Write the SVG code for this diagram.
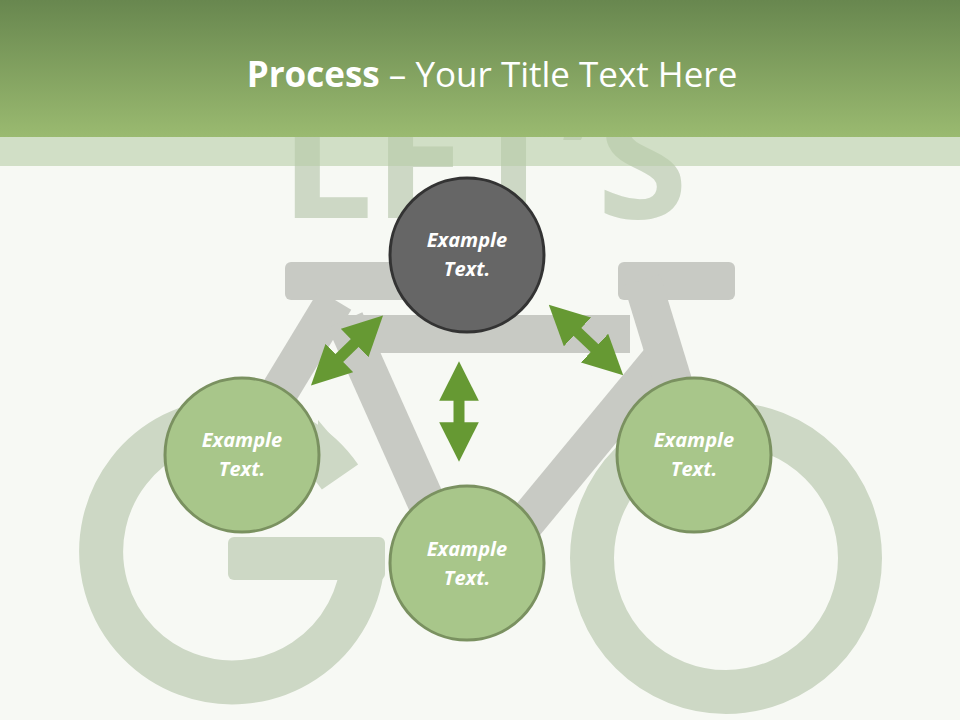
<svg xmlns="http://www.w3.org/2000/svg" width="960" height="720" viewBox="0 0 960 720">
<defs>
<linearGradient id="hdr" x1="0" y1="0" x2="0" y2="1"><stop offset="0" stop-color="#68874f"/><stop offset="1" stop-color="#9aba70"/></linearGradient>
<marker id="ah" viewBox="0 0 10 10" refX="4" refY="5" markerWidth="3.6" markerHeight="3.6" orient="auto-start-reverse" markerUnits="strokeWidth"><path d="M0,0 L10,5 L0,10 Z" fill="#669933"/></marker>
<style>
.frame{fill:none;stroke:#c8cac4;stroke-width:38;stroke-linecap:butt}
.wheel{fill:none;stroke:#cdd8c5;stroke-width:44}
.n{stroke-width:3}
.g{fill:#a8c68a;stroke:#7a9160}
.d{fill:#666;stroke:#333}
.t{font-family:"Open Sans","Liberation Sans",sans-serif;font-weight:bold;font-style:italic;font-size:20px;fill:#fff;text-anchor:middle}
.arr{stroke:#669933;stroke-width:11;fill:none;marker-start:url(#ah);marker-end:url(#ah)}
</style>
</defs>
<rect width="960" height="720" fill="#f7f9f4"/>
<g id="background">
<text x="484" y="218" font-family="Open Sans,Liberation Sans,sans-serif" font-weight="bold" font-size="165" fill="#cdd8c5" text-anchor="middle">LET’S</text>
<circle class="wheel" cx="726" cy="558" r="134"/>
<path class="wheel" d="M340,477 A131,131 0 1 0 363,558"/>
<rect x="228" y="537" width="157" height="43" rx="6" fill="#cdd8c5"/>
<rect x="285" y="262" width="140" height="38" rx="6" fill="#c8cac4"/>
<rect x="618" y="262" width="117" height="38" rx="6" fill="#c8cac4"/>
<line class="frame" x1="345" y1="334" x2="630" y2="334"/>
<line class="frame" x1="335" y1="300" x2="232" y2="470"/>
<line class="frame" x1="345" y1="320" x2="470" y2="600"/>
<line class="frame" x1="660" y1="360" x2="470" y2="590"/>
<line class="frame" x1="642" y1="280" x2="700" y2="470"/>
<path d="M318,420 L350,458 L318,482 Z" fill="#cdd8c5"/>
</g>
<g id="header">
<rect width="960" height="137" fill="url(#hdr)"/>
<rect y="137" width="960" height="29" fill="#b7cda6" opacity="0.6"/>
<text x="492" y="87" font-family="Open Sans,Liberation Sans,sans-serif" font-size="35" fill="#fff" text-anchor="middle"><tspan font-weight="bold">Process</tspan> – Your Title Text Here</text>
</g>
<g id="connectors">
<line class="arr" x1="328" y1="369" x2="366" y2="332"/>
<line class="arr" x1="566" y1="321" x2="606" y2="359"/>
<line class="arr" x1="459" y1="385" x2="459" y2="438"/>
</g>
<g id="node-top"><circle class="n d" cx="467" cy="255" r="77"/><text class="t" x="467" y="247">Example</text><text class="t" x="467" y="276">Text.</text></g>
<g id="node-left"><circle class="n g" cx="242" cy="455" r="77"/><text class="t" x="242" y="447">Example</text><text class="t" x="242" y="476">Text.</text></g>
<g id="node-right"><circle class="n g" cx="694" cy="455" r="77"/><text class="t" x="694" y="447">Example</text><text class="t" x="694" y="476">Text.</text></g>
<g id="node-bottom"><circle class="n g" cx="467" cy="563" r="77"/><text class="t" x="467" y="556">Example</text><text class="t" x="467" y="585">Text.</text></g>
</svg>
